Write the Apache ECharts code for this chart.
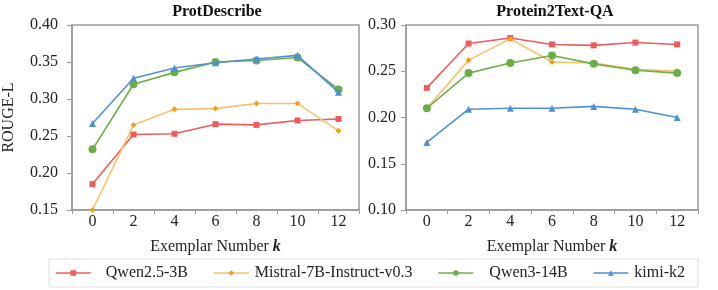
<!DOCTYPE html>
<html><head><meta charset="utf-8">
<script src="https://cdn.jsdelivr.net/npm/echarts@6/dist/echarts.min.js"></script>
<style>html,body{margin:0;padding:0;background:#fff}#c{width:718px;height:290px}</style>
</head><body><div id="c"></div>
<script>
const categories = ['0','2','4','6','8','10','12'];
const seriesNames = ['Qwen2.5-3B','Mistral-7B-Instruct-v0.3','Qwen3-14B','kimi-k2'];
// ProtDescribe
const pdQwen25 = [0.185,0.252,0.253,0.266,0.265,0.271,0.273];
const pdMistral = [0.150,0.265,0.286,0.287,0.294,0.294,0.257];
const pdQwen3 = [0.232,0.320,0.336,0.350,0.352,0.356,0.313];
const pdKimi = [0.267,0.328,0.342,0.349,0.354,0.359,0.309];
// Protein2Text-QA
const qaQwen25 = [0.232,0.280,0.286,0.279,0.278,0.281,0.279];
const qaMistral = [0.210,0.262,0.285,0.260,0.259,0.252,0.250];
const qaQwen3 = [0.210,0.248,0.259,0.267,0.258,0.251,0.248];
const qaKimi = [0.173,0.209,0.210,0.210,0.212,0.209,0.200];
const titles = ['ProtDescribe','Protein2Text-QA'];

const FONT = '"Liberation Serif", "DejaVu Serif", serif';
const lineColors = ['#ef5b5b','#f7c06a','#6cad45','#4f91d6'];
const markColors = ['#ef5b5b','#f0a01e','#6cad45','#4f91d6'];
const symbols = ['rect','diamond','circle','triangle'];
const symSizes = [6,6,8,7];
const legendPad = [[0,0,0,10],[0,0,0,1],[0,0,0,11],[0,0,0,1]];

const chart = echarts.init(document.getElementById('c'));
function xAxis(gi){
  return {type:'category', gridIndex:gi, data:categories, boundaryGap:true,
    axisLine:{lineStyle:{color:'#9a9a9a',width:1.5}},
    axisTick:{show:true,length:4,lineStyle:{color:'#9a9a9a'}},
    axisLabel:{fontFamily:FONT,fontSize:16,color:'#222',margin:4},
    name:'Exemplar Number {k|k}', nameLocation:'middle', nameGap:29,
    nameTextStyle:{fontFamily:FONT,fontSize:16,color:'#222',
      rich:{k:{fontFamily:FONT,fontSize:16,fontStyle:'italic',fontWeight:'bold',color:'#222'}}}};
}
function yAxis(gi,min,max,name,margin){
  return {type:'value', gridIndex:gi, min:min, max:max, interval:0.05,
    axisLine:{show:true,lineStyle:{color:'#9a9a9a',width:1.5}},
    axisTick:{show:true,length:5,lineStyle:{color:'#9a9a9a'}},
    splitLine:{show:false},
    axisLabel:{fontFamily:FONT,fontSize:16,color:'#222',margin:margin,formatter:v=>v.toFixed(2)},
    name:name, nameLocation:'middle', nameGap:55,
    nameTextStyle:{fontFamily:FONT,fontSize:16,color:'#222'}};
}
const data = [[pdQwen25,pdMistral,pdQwen3,pdKimi],[qaQwen25,qaMistral,qaQwen3,qaKimi]];
const series = [];
for(let g=0; g<2; g++){
  for(let i=0;i<4;i++){
    series.push({type:'line', name:seriesNames[i], xAxisIndex:g, yAxisIndex:g,
      data:data[g][i], symbol:symbols[i], symbolSize:symSizes[i], showSymbol:true,
      lineStyle:{color:lineColors[i],width:1.6},
      itemStyle:{color:markColors[i],borderWidth:0},
      z:2+i, animation:false});
  }
}
chart.setOption({
  animation:false,
  title:[
    {text:titles[0], left:212, top:-1, textAlign:'center', textStyle:{fontFamily:FONT,fontSize:16,fontWeight:'bold',color:'#111'}},
    {text:titles[1], left:550, top:-1, textAlign:'center', textStyle:{fontFamily:FONT,fontSize:16,fontWeight:'bold',color:'#111'}}
  ],
  grid:[
    {left:69, top:25, width:290, height:185, show:true, borderColor:'#9a9a9a', borderWidth:1.5},
    {left:406, top:25, width:292, height:185, show:true, borderColor:'#9a9a9a', borderWidth:1.5}
  ],
  xAxis:[xAxis(0), xAxis(1)],
  yAxis:[yAxis(0,0.15,0.40,'ROUGE-L',14), yAxis(1,0.10,0.30,'',10)],
  legend:{
    data:seriesNames.map((n,i)=>({name:n, itemStyle:{color:markColors[i]},
      lineStyle:{color:lineColors[i],width:1.6},
      textStyle:{fontFamily:FONT,fontSize:16,color:'#222',padding:legendPad[i]}})),
    left:49, top:259, itemWidth:35, itemHeight:7, itemGap:25,
    padding:[6,13,6,6], borderColor:'#dddddd', borderWidth:1,
    textStyle:{fontFamily:FONT,fontSize:16,color:'#222'},
    selectedMode:false
  },
  series:series
});
</script></body></html>
